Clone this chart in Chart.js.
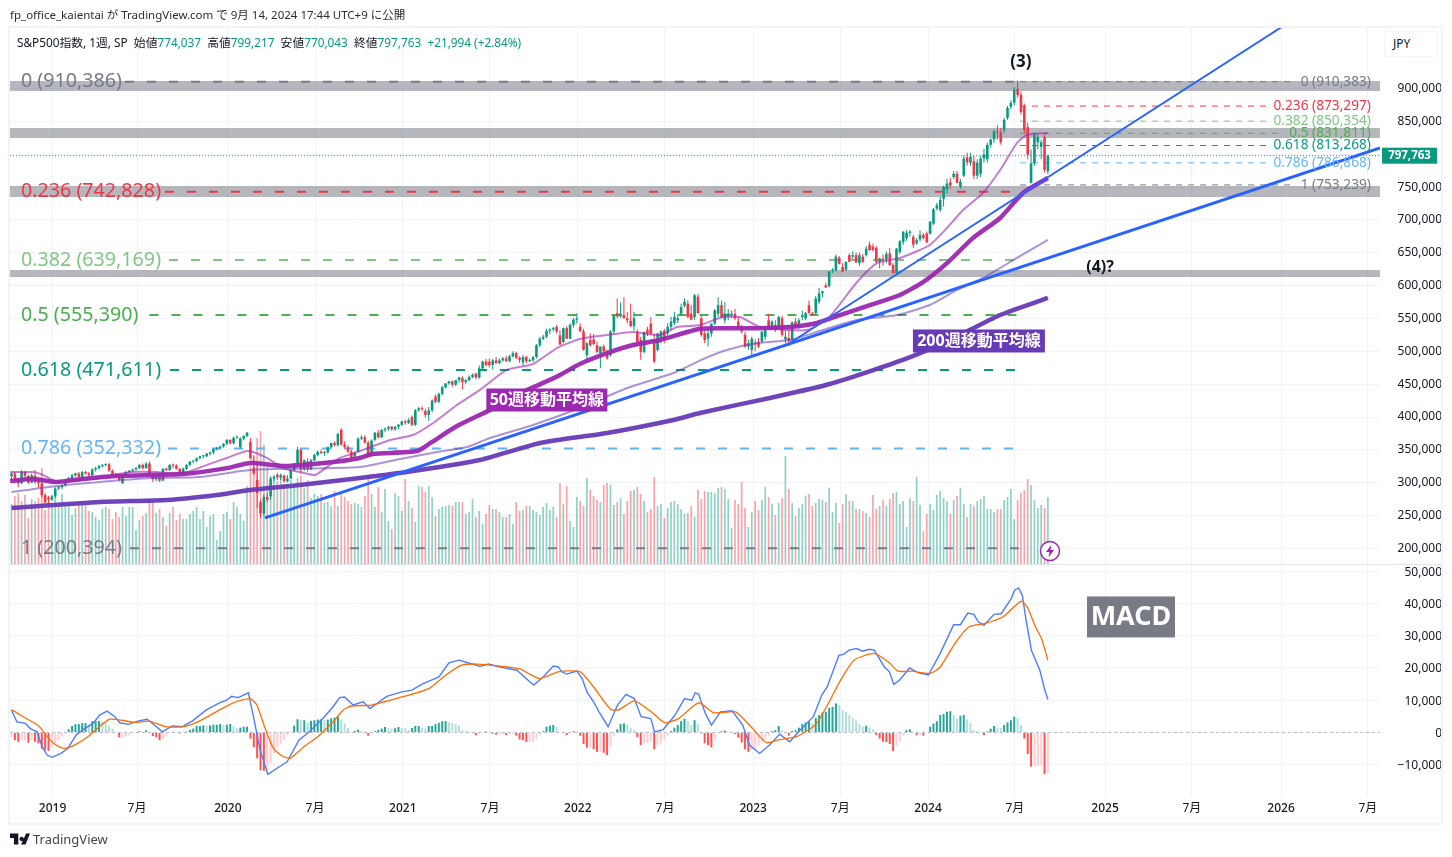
<!DOCTYPE html>
<html lang="ja">
<head>
<meta charset="utf-8">
<title>S&amp;P500指数 1週</title>
<script src="https://cdn.jsdelivr.net/npm/chart.js@4"></script>
<style>
  html, body { margin: 0; background: #fff; }
  body { width: 1452px; height: 857px; position: relative; overflow: hidden;
         font-family: "Noto Sans", "Noto Sans CJK JP", sans-serif; color: #131722; }
  canvas { position: absolute; left: 0; top: 0; }
  .abs { position: absolute; white-space: pre; }
  #frame { left: 8px; top: 26px; width: 1431px; height: 795px; border: 2px solid #f0f3fa; }
  #sep { left: 10px; top: 564px; width: 1431px; height: 1px; background: #e0e3eb; }
  #pub { left: 10px; top: 6px; font-size: 11.5px; color: #2a2e39; }
  #legend { left: 17px; top: 33px; font-size: 11.8px; color: #131722; }
  #legend b { font-weight: 400; color: #089981; }
  #jpy { left: 1384px; top: 31px; width: 52px; height: 24px; line-height: 24px; border: 1px solid #f0f3fa;
         border-radius: 4px; font-size: 12px; padding-left: 0; text-indent: 8px; background: #fff; }
  #tv { left: 33px; top: 830px; font-size: 13px; color: #434651; }
</style>
</head>
<body>
<canvas id="chart" width="1452" height="857"></canvas>
<div class="abs" id="frame"></div>
<div class="abs" id="sep"></div>
<div class="abs" id="pub">fp_office_kaientai が TradingView.com で 9月 14, 2024 17:44 UTC+9 に公開</div>
<div class="abs" id="legend">S&amp;P500指数, 1週, SP  始値<b>774,037</b>  高値<b>799,217</b>  安値<b>770,043</b>  終値<b>797,763</b>  <b>+21,994 (+2.84%)</b></div>
<div class="abs" id="jpy">JPY</div>
<svg class="abs" style="left:10px;top:833px" width="20" height="12" viewBox="0 0 36 20">
  <path fill="#131722" d="M0 0h15v20H7V8H0zM29 0h7l-8 20h-8zM21 6a4 4 0 1 1-.01 0z"/>
</svg>
<div class="abs" id="tv">TradingView</div>
<svg class="abs" style="left:1039px;top:540px" width="22" height="22" viewBox="0 0 22 22">
  <circle cx="11" cy="11" r="9.5" fill="#fff" stroke="#9c27b0" stroke-width="1.5"/>
  <path fill="#9c27b0" d="M12.5 4.5 7 12h3.5l-1 5.5L15 10h-3.5z"/>
</svg>
<script>
// all prices are in thousands of yen, x is the week number from the first candle
const opens = [
  308,312,303,297,314,308,298,309,299,297, 279,275,272,277,289,291,294,301,305,309,
  312,306,314,312,309,318,320,323,325,326, 316,311,309,297,309,314,316,318,320,325,
  320,327,309,303,306,301,319,317,325,324, 319,312,319,325,330,331,335,338,338,342,
  344,349,351,353,357,363,358,366,352,365, 369,360,320,302,268,251,276,277,304,310,
  306,309,300,304,317,327,348,318,330,318, 332,340,345,343,344,352,358,355,378,356,
  352,345,338,345,365,367,359,343,363,374, 367,378,380,383,379,383,386,391,389,398,
  386,408,411,407,401,408,429,421,433,443, 449,452,447,454,457,451,454,459,464,458,
  472,482,482,477,484,480,484,487,483,490, 495,488,481,489,483,484,489,507,517,520,
  529,531,535,522,512,533,517,538,546,535, 528,492,515,516,507,495,505,497,492,528,
  556,551,553,548,544,536,527,515,497,531, 540,515,500,515,529,525,535,541,545,555,
  567,570,555,550,581,548,525,517,525,540, 555,568,545,551,553,555,543,535,523,505,
  500,510,512,513,520,545,533,538,535,548, 516,518,515,543,535,550,548,568,556,556,
  573,586,598,597,620,621,640,626,622,644, 642,644,632,642,644,660,657,655,634,639,
  637,647,629,617,649,664,670,678,672,662, 668,675,677,677,692,715,713,730,744,755,
  763,768,748,765,793,785,787,765,768,791, 790,812,820,832,831,835,853,870,876,897,
  888,871,839,754,784,816,809,824,774.037
];
const highs = [
  313,314,305,317,316,310,312,317,307,300, 282,278,279,291,293,295,303,307,311,313,
  314,316,316,314,320,322,325,326,327,328, 318,313,311,311,316,317,319,322,326,327,
  329,330,311,309,309,320,321,326,327,326, 320,321,326,331,332,336,339,340,343,345,
  350,352,354,358,364,364,368,370,367,370, 375,366,338,327,272,280,283,307,310,313,
  312,310,309,318,328,352,350,333,335,334, 342,347,348,346,353,359,361,374,381,361,
  355,348,345,367,370,370,362,364,375,378, 380,382,384,384,384,387,392,394,396,400,
  410,413,414,410,413,425,432,435,445,449, 453,453,454,459,460,456,461,464,465,476,
  483,486,487,486,489,487,489,491,492,498, 497,490,492,491,487,491,509,520,523,532,
  533,535,538,530,534,536,540,548,556,540, 532,512,525,524,512,505,508,500,530,553,
  578,572,580,558,570,558,531,520,528,535, 550,525,526,530,532,540,550,558,552,570,
  578,576,568,585,585,552,530,532,540,562, 580,575,573,562,560,562,550,538,528,515,
  520,516,518,528,532,555,545,545,552,552, 530,530,543,548,548,560,558,575,558,582,
  594,590,602,620,624,645,643,632,635,647, 650,648,648,646,658,665,662,658,640,645,
  650,655,632,655,667,680,682,682,675,670, 682,678,680,696,716,724,733,750,760,762,
  772,772,760,795,800,800,795,790,795,806, 815,822,835,842,838,853,871,880,900,910,
  893,875,846,805,830,828,820,828,799.217
];
const lows = [
  303,300,291,296,305,296,297,296,290,275, 262,266,270,275,287,288,292,299,303,307,
  304,305,310,306,308,315,318,321,323,314, 308,306,300,296,308,312,314,316,319,318,
  319,310,299,300,299,300,316,316,320,318, 311,310,317,323,327,329,333,335,337,339,
  341,347,349,351,355,356,356,365,350,362, 367,333,310,259,244,248,268,272,300,302,
  302,298,298,303,315,325,312,316,315,317, 331,338,341,339,342,350,353,353,354,350,
  343,335,335,348,363,357,337,338,361,365, 366,375,377,377,377,379,384,386,387,384,
  384,406,407,397,392,405,419,419,431,441, 447,444,445,450,440,448,452,457,455,456,
  470,475,473,470,478,478,482,481,481,489, 486,480,476,480,481,482,487,504,515,518,
  524,528,525,508,510,517,516,534,540,528, 499,480,505,507,495,472,495,485,490,525,
  548,549,548,540,535,529,512,485,495,521, 523,480,498,510,510,522,530,538,541,552,
  565,548,545,545,555,520,510,505,520,538, 550,548,540,545,548,545,535,525,503,500,
  492,498,503,510,515,535,530,527,532,520, 510,506,512,534,532,545,545,555,552,553,
  570,580,594,595,617,619,630,618,620,634, 638,632,628,632,642,650,650,632,624,628,
  632,628,616,614,646,660,666,672,655,660, 665,668,662,675,690,712,710,718,738,745,
  760,754,745,763,780,780,760,760,763,785, 785,808,815,820,812,830,850,866,872,884,
  858,830,790,753,780,805,790,770,770.043
];
const closes = [
  312,303,297,314,308,298,309,299,297,279, 268,272,277,289,291,294,301,305,309,312,
  306,314,312,309,318,320,323,325,326,316, 311,309,302,309,314,316,318,320,325,320,
  327,312,303,306,301,319,317,325,324,319, 312,319,325,330,331,335,338,338,342,344,
  349,351,353,357,363,358,366,366,365,369, 374,335,312,282,251,276,272,304,307,306,
  309,300,304,317,327,348,318,332,318,332, 340,345,343,344,352,358,355,372,356,352,
  345,337,343,365,367,359,340,362,374,367, 378,380,383,379,383,386,391,389,393,386,
  408,411,410,401,408,423,421,433,443,449, 452,447,454,458,451,454,459,462,458,472,
  482,477,477,484,480,484,487,483,490,495, 488,485,489,483,484,489,507,517,520,529,
  531,533,528,508,533,517,538,546,548,528, 500,510,507,509,497,505,498,487,528,553,
  551,555,548,545,536,548,512,497,527,525, 525,482,525,528,515,535,543,550,548,565,
  573,550,546,583,556,523,515,525,540,560, 568,550,555,555,555,548,535,528,505,510,
  517,508,505,528,530,535,543,530,550,523, 520,513,542,535,545,553,556,556,553,578,
  586,589,595,619,622,642,631,619,634,634, 644,633,644,634,654,652,652,634,639,636,
  646,629,617,654,665,680,678,680,660,667, 675,670,664,695,714,720,728,748,753,750,
  768,754,756,791,785,794,765,785,791,797, 812,820,832,831,816,850,868,876,896,888,
  862,834,797,784,827,824,816,774,797.763
];
const volumes = [
  61,69,72,64,70,47,66,64,67,97, 55,63,59,71,58,71,60,62,50,57,
  62,63,60,54,53,48,45,56,58,56, 46,53,48,58,49,58,58,35,45,49,
  52,64,63,52,56,48,39,52,58,45, 51,46,46,51,54,58,46,54,38,49,
  51,25,34,51,53,46,63,58,51,44, 79,102,110,127,134,120,100,89,87,84,
  91,81,81,85,81,87,89,77,85,67, 71,69,71,62,63,59,74,59,71,68,
  64,61,62,61,58,69,88,71,58,78, 53,76,44,36,72,69,54,86,64,57,
  43,79,78,73,79,68,49,56,58,59, 60,59,63,63,63,51,53,66,48,54,
  41,51,60,56,56,53,48,48,51,41, 63,54,55,59,
  59,55,53,50,58,62, 55,58,48,82,61,79,44,38,68,64,
  59,87,75,69,65,63,80,82,80,60, 63,67,51,64,74,75,78,71,64,53,
  56,88,59,61,47,57,63,64,61,56, 51,52,59,48,75,66,74,73,73,72,
  77,78,76,66,37,65,61,83,57,38, 53,64,55,65,78,68,61,50,62,67,
  109,76,62,49,57,61,69,71,59,62, 66,65,63,77,53,62,42,61,71,64,
  64,56,56,54,52,48,70,56,59,65, 59,66,72,73,61,64,38,67,64,88,
  60,34,51,61,55,70,74,67,64,51, 65,69,77,61,48,61,59,64,66,69,
  56,56,53,56,56,65,68,76,46,65, 72,75,86,80,65,57,60,57,68
];
const macdHist = [
  -1.5,-2.4,-2.9,-2.4,-2.4,-3.2,-2.4,-2.9,-3.4,-5, -5.5,-5.7,-4.4,-3.4,-2.4,-1.3,-0.3,1,2,2.6,
  2.6,2.9,2.9,2.4,3.5,3.5,3.5,3.3,3,2, 1.2,0.2,-1.5,-1.5,-1.3,-0.8,-0.3,0,0.4,0.2,
  0.7,-0.1,-1.1,-1.5,-2.4,-2,-1.3,-0.1,0.2,0.1, -0.3,0.2,0.3,0.8,1.2,2,2,2.2,2,2.2,
  2.4,2.4,2.6,2.3,2.4,2.6,2,1.3,1.5,1.8, 1.8,-1.9,-4.6,-8,-11.7,-11.9,-11.7,-9.6,-6.5,-4.6,
  -3.4,-2.4,-0.8,0.2,2.1,4.1,3.8,3.8,3.1,3.6, 3.8,4,4,3.8,4,4.4,4.6,4.9,4,2.8,
  1.4,0.1,0.5,0.9,0.5,-0.1,-1,-0.3,0.4,0.8, 1.2,1.7,1.4,1.2,1.3,1.7,1.4,1.3,0.9,1.4,
  2,2,1.4,1.3,2,2,2.6,3,3.5,3.5, 3.1,3,2.6,2,0.7,0.5,0.2,0.1,-0.9,-0.5,
  0.2,0.3,-0.2,-0.4,-0.7,-0.6,-0.5,-0.8,-0.6,-0.5, -1,-2.2,-2.4,-2.9,-2.9,-2.9,-1.9,-0.8,0.4,1.8,
  2.1,2.3,1.8,0,-0.1,-0.8,-0.3,0.4,-0.1,-1, -3.6,-4.7,-4.7,-5.2,-6,-6,-6.3,-7,-4.4,-1,
  1,2.6,2.8,2.5,1.5,0.7,-1.5,-3.9,-3.4,-3.2, -2.9,-5.2,-3.9,-3.4,-2.4,-1,0.4,1.5,2.3,3.5,
  4.3,3.5,2.3,3.8,2.6,-0.3,-3.4,-3.9,-4.6,-2.4, -0.3,0.4,0.6,0.3,0.2,-0.5,-1.6,-3.1,-5.2,-6,
  -5.5,-5.5,-4.1,-3.1,-1.9,-1,0.4,0.7,2,0.6, 0,-1,0.4,0.7,1.5,2.6,3.1,3.3,3,4.5,
  5.4,6.2,6.4,7.6,7.9,9,8.5,6.9,6.4,5.4, 4.5,3.8,2.6,1.8,2.1,1.5,1,-0.8,-1.9,-2.9,
  -3,-3.6,-5.8,-4.1,-2.7,-0.8,0.7,1,0,-0.8, -0.8,-1,0,1.8,2.8,3.5,5.4,5.7,6.4,6.6,
  5.4,4.3,5.2,5.4,4.1,3,0.7,0.5,0,-0.8, 0.4,1.2,2,1.5,1.4,2.3,3.1,3.8,4.9,4.5,
  2.3,-1.9,-6.7,-10.6,-10.3,-10.3,-10.3,-12.9,-12.5
];

// moving averages and MACD lines: [week, value]
const ma50 = [[-0.4,300.4],[6.4,303.5],[13.5,299],[21,303.5],[31,308],[41,309.6],[51,311],[64,320],[71,328],[81,323.3],[95.6,329.4],[103.5,335.5],[107.4,341.5],[120.5,346],[124.4,358],[132.4,384],[142.2,408.5],[152,436],[162,459],[168.9,478.5],[177,495],[184.7,507.4],[192.7,515],[204.6,532],[211.4,533],[221.5,533],[231.3,534.8],[239.4,540.9],[246.2,553],[255.1,568],[264,583.5],[270.9,603],[278,632],[285.7,670],[293.8,700.7],[300.6,738.7],[308,761.5]];
const ma20 = [[-0.4,314],[6.4,314],[9.4,309.6],[13.5,299],[20.4,302],[26.3,305],[30.2,309.6],[36.1,314],[43.2,314],[46.2,312.6],[52.2,314],[58.1,325],[64,335.5],[70.3,346],[75.9,335.5],[80.7,320],[85.7,314],[90.2,309.6],[93.8,321.8],[97.6,335.5],[103.6,346],[112.5,362.8],[119.3,370.4],[125.3,388.7],[132.4,416],[139.2,439],[147.2,469.4],[155,478.5],[162.1,502.8],[168.9,516.5],[177,522.6],[184.7,527.2],[192.7,522.6],[197.8,534.8],[204.6,537.8],[211.4,550],[216.5,550],[222.4,534.8],[231.3,530.2],[236.4,530.2],[241.1,542.4],[244.1,556],[251.3,603.3],[257.2,632],[264,639.8],[272.9,659.6],[278,685.4],[282.8,712.8],[288.7,738.7],[293.8,773.7],[298.8,814.8],[301.8,827],[308,830]];
const ma100 = [[0,283.7],[13.5,292.9],[26.3,299],[41.2,305],[56,306.5],[70.9,317.2],[103.6,321.8],[115.5,334],[126.5,344.6],[135.4,352.2],[142.2,365.9],[155,385.7],[168.9,411.5],[183,442],[196.7,464.8],[205.5,486],[212.6,499.8],[221.5,510.4],[231.3,515],[241.1,530.2],[251.3,545.5],[263.2,553],[272.9,568.3],[280.9,591],[288.7,609.4],[298.8,639.8],[308,667.2]];
const ma200 = [[0,259.4],[26.3,268.5],[46.2,271.5],[61.1,279.1],[70.9,286.8],[85.7,294.4],[103.6,305],[121.4,317.2],[139.2,332.4],[157.1,358.3],[177,373.5],[196.7,393.3],[204.6,404],[225.4,426.8],[243.2,448],[264.9,484.6],[278.9,515],[293.8,553],[308,579]];
const macdLine = [[0,6.9],[1.6,3.3],[4.1,2.8],[5.6,1.2],[7.6,0.2],[9.1,-4.4],[10.6,-7],[12.1,-7.7],[14.7,-6.5],[16.7,-5],[19.2,-0.8],[21.7,1.2],[24.2,2.8],[26.2,5.4],[28.4,6.6],[30.7,4.9],[32.2,3],[34.7,2.5],[37.8,3.6],[40.3,4.1],[42.8,2],[44.8,0.2],[47.8,2],[50.8,1.8],[53.8,3.6],[57.8,6.9],[61.8,9.2],[63.9,10],[65.4,11.2],[67.4,10.8],[70.4,12.3],[71.9,4.9],[73.9,-5.5],[76.2,-13],[78.9,-11.1],[81.9,-9.1],[85.4,-2.4],[88.5,0.2],[93,4.9],[95.5,7.9],[97.5,10.8],[99,11],[101.5,8.5],[104.5,9.5],[106.5,7.4],[111.5,11.2],[116,12.6],[119,13.1],[122,15],[127,17.2],[130,21.6],[133,22.4],[135.6,21.6],[139.2,20.5],[141.7,21.2],[145.2,20.3],[150.2,19.3],[154,15.7],[155.2,14.7],[158,17.2],[161,20.6],[162.5,20.3],[163.5,18.8],[165,18.1],[168,19],[169.6,16.7],[171,12.6],[173,9.5],[174.6,6.4],[177.3,1.8],[180.1,8.5],[182.6,11.8],[185.1,10.5],[187.1,4.9],[190,4.3],[191.1,0.2],[193.7,0.9],[197.2,5.4],[200,10.5],[202.2,10],[203.2,12.3],[204.2,11.9],[206.2,5.9],[208,2.3],[210.7,6.4],[214.2,6.7],[217.3,2.3],[219.3,-3.9],[222.3,-6.5],[225.3,-3.9],[228.3,-0.5],[231.3,-2.9],[234.3,0.7],[238.3,4.9],[240.8,11.6],[242.4,14.1],[245.9,23.9],[247.4,24.3],[248.9,25.5],[251.2,26],[252.9,25.2],[254.9,25.8],[256.4,25.5],[259.4,20.3],[260.9,18.8],[262.2,14.9],[263.9,16.2],[266.9,20],[269.5,18.5],[272.5,17.8],[276,24.5],[280,33.4],[282,33.4],[284.2,37],[286,36.6],[287.3,34.3],[289,33.2],[292,36.6],[294.1,36.8],[297.1,41.5],[298.1,44.1],[299.3,44.8],[300.4,42.5],[301.6,34.3],[303.1,25.5],[305.6,19.3],[307.1,13.1],[308,10.2]];
const macdSignal = [[0,7.1],[2.6,5.4],[8.1,2],[10.6,-1.3],[13.2,-3.9],[15.7,-4.9],[18.7,-3.9],[22.7,-1.3],[26.7,2.3],[29.2,4.1],[31.7,4],[36.7,3.1],[40.8,3.5],[45.8,1.8],[51.3,1.8],[55.8,3.5],[60.8,6.4],[65.9,9.2],[70.9,10.5],[72.9,8.5],[75.4,1.2],[77.9,-5],[80.4,-7.3],[82.9,-8],[86.9,-4.4],[91,-1.3],[96,3.8],[98.5,6.9],[101,8.2],[107,8.5],[115,10.7],[124,13.6],[129.1,17.8],[133.6,20.8],[138.2,21.2],[147.2,20.3],[151.2,19.6],[154,18.1],[157,16.7],[162.5,18.8],[169,18.8],[173,14.1],[178.1,7.1],[180.6,7.1],[185.1,9.8],[190.1,6.4],[194.2,3],[198.2,4.3],[204.2,9.2],[208.7,6.1],[215.2,6.4],[219.3,2.3],[224.3,-3.1],[228.3,-2.2],[233.3,-1.3],[239.3,2.8],[246.4,16.2],[250.4,22.4],[256.4,24.5],[260.9,21.6],[263.4,19],[267.5,19],[273,18.3],[276,20.3],[280.5,27.8],[284.5,32.7],[289,33.7],[294.6,35.8],[300.1,40.7],[302.1,38.4],[304.1,33.2],[306.1,29.1],[308,22.4]];

// hand drawn trend lines and the grey zones
const trendThick = [[75.3,244.2],[406.7,807.2]];
const trendThin = [[231.3,510.4],[377.5,991.3]];
const zoneLevels = [903.8, 832.3, 743.3, 618.3];
const zoneHeights = [10, 10, 11, 7];

// long fib (left labels) and short fib (right labels)
const longFibValues = [910.386, 742.828, 639.169, 555.39, 471.611, 352.332, 200.394];
const longFibLabels = ["0 (910,386)", "0.236 (742,828)", "0.382 (639,169)", "0.5 (555,390)", "0.618 (471,611)", "0.786 (352,332)", "1 (200,394)"];
const longFibStarts = [33.7, 45.6, 46.8, 41, 47.1, 46.5, 35.2];
const shortFibValues = [910.383, 873.297, 850.354, 831.811, 813.268, 786.868, 753.239];
const shortFibLabels = ["0 (910,383)", "0.236 (873,297)", "0.382 (850,354)", "0.5 (831,811)", "0.618 (813,268)", "0.786 (786,868)", "1 (753,239)"];
const shortFibEnds = [380.8, 372.8, 372.8, 378.5, 372.8, 372.8, 380.8];
const fibColors = ["#787b86", "#f23645", "#81c784", "#4caf50", "#089981", "#64b5f6", "#787b86"];

const priceTicks = [200, 250, 300, 350, 400, 450, 500, 550, 600, 650, 700, 750, 800, 850, 900];
const macdTicks = [-10, 0, 10, 20, 30, 40, 50];
const timeTicks = [12.2, 37.3, 64.3, 90.2, 116.3, 142.2, 168.3, 194.2, 220.4, 246.3, 272.4, 298.2, 325, 350.8, 377.3, 403.1];
const timeLabels = ["2019", "7月", "2020", "7月", "2021", "7月", "2022", "7月", "2023", "7月", "2024", "7月", "2025", "7月", "2026", "7月"];

const GREEN = "#089981";
const RED = "#f23645";
const FONT = '"Noto Sans", "Noto Sans CJK JP", sans-serif';

// my readings of the candles and averages came out about 2,300 yen low against the printed fib levels
const READ_BIAS = 2.3;
const LAST = closes.length - 1;
const fix = (v, i) => (i === LAST ? v : v + READ_BIAS);

const pairs = (list) => list.map(([x, y]) => ({ x, y: y + READ_BIAS }));
const plain = (list) => list.map(([x, y]) => ({ x, y }));
const isUp = (i) => closes[i] >= opens[i];
const flat = (y, x0, x1) => [{ x: x0, y }, { x: x1, y }];

const lineSet = (data, color, width, order, extra) => ({
  type: "line", data, borderColor: color, borderWidth: width, order,
  pointRadius: 0, fill: false, yAxisID: "y", tension: 0, ...extra,
});

const datasets = [];

zoneLevels.forEach((v, i) => {
  datasets.push(lineSet(flat(v, -0.45, 406.7), "rgba(120,123,134,0.55)", zoneHeights[i], 30));
});
longFibValues.forEach((v, i) => {
  datasets.push(lineSet(flat(v, longFibStarts[i], 299.7), fibColors[i], 2, 12, { borderDash: [9, 13] }));
});
shortFibValues.forEach((v, i) => {
  datasets.push(lineSet(flat(v, 299.7, shortFibEnds[i]), fibColors[i], 1, 12, { borderDash: [6, 6] }));
});
datasets.push(lineSet(flat(closes[LAST], -0.45, 406.7), GREEN, 1, 11, { borderDash: [1, 2] }));

datasets.push({
  type: "bar", label: "volume", yAxisID: "yVol", order: 20, barThickness: 1.7, grouped: false, inflateAmount: 0,
  data: volumes.map((v, i) => ({ x: i, y: v })),
  backgroundColor: volumes.map((v, i) => (isUp(i) ? "rgba(8,153,129,0.45)" : "rgba(242,54,69,0.45)")),
});
datasets.push({
  type: "bar", label: "wick", yAxisID: "y", order: 9, barThickness: 1, grouped: false, inflateAmount: 0,
  data: highs.map((h, i) => ({ x: i, y: [fix(lows[i], i), fix(h, i)] })),
  backgroundColor: highs.map((h, i) => (isUp(i) ? GREEN : RED)),
});
datasets.push({
  type: "bar", label: "body", yAxisID: "y", order: 8, barThickness: 2.6, grouped: false, minBarLength: 1, inflateAmount: 0,
  data: opens.map((o, i) => ({ x: i, y: [fix(Math.min(o, closes[i]), i), fix(Math.max(o, closes[i]), i)] })),
  backgroundColor: opens.map((o, i) => (isUp(i) ? GREEN : RED)),
});

datasets.push(lineSet(pairs(ma100), "rgba(103,58,183,0.55)", 2, 6, { tension: 0.2 }));
datasets.push(lineSet(pairs(ma20), "rgba(156,39,176,0.6)", 2, 6, { tension: 0.2 }));
datasets.push(lineSet(pairs(ma200), "rgba(103,58,183,0.95)", 4.5, 5, { tension: 0.2 }));
datasets.push(lineSet(pairs(ma50), "rgba(156,39,176,0.95)", 4.5, 5, { tension: 0.2 }));
datasets.push(lineSet(pairs(trendThick), "#2962ff", 3, 4));
datasets.push(lineSet(pairs(trendThin), "#2962ff", 2, 4));

datasets.push({
  type: "bar", label: "hist", yAxisID: "yMacd", order: 7, barThickness: 2, grouped: false, inflateAmount: 0,
  data: macdHist.map((v, i) => ({ x: i, y: v })),
  backgroundColor: macdHist.map((v, i) => {
    const prev = i ? macdHist[i - 1] : v;
    if (v >= 0) return v >= prev ? "#26a69a" : "#b2dfdb";
    return v < prev ? "#ff5252" : "#ffcdd2";
  }),
});
datasets.push(lineSet(flat(0, -0.45, 406.7), "rgba(120,123,134,0.45)", 1, 8, { yAxisID: "yMacd", borderDash: [3, 3] }));
datasets.push(lineSet(plain(macdLine), "#4d7cff", 1.4, 3, { yAxisID: "yMacd" }));
datasets.push(lineSet(plain(macdSignal), "#ff6d00", 1.3, 2, { yAxisID: "yMacd", tension: 0.2 }));

// texts that sit on the chart, placed through the scales
const floatingTexts = [
  { text: "(3)", x: 300, y: 940.3, axis: "y", font: "bold 17px " + FONT, color: "#131722" },
  { text: "(4)?", x: 323.5, y: 628.3, axis: "y", font: "bold 16px " + FONT, color: "#131722" },
];
const tagTexts = [
  { text: "50週移動平均線", x: 159.1, y: 426, axis: "y", font: "bold 16px " + FONT, bg: "#9c27b0", w: 121, h: 23 },
  { text: "200週移動平均線", x: 287.5, y: 515.8, axis: "y", font: "bold 16px " + FONT, bg: "#673ab7", w: 132, h: 23 },
  { text: "MACD", x: 332.7, y: 35.8, axis: "yMacd", font: "bold 27px " + FONT, bg: "#787b86", w: 88, h: 41 },
];

const overlay = {
  id: "overlay",
  afterDatasetsDraw(chart) {
    const { ctx, scales, chartArea } = chart;
    const px = (v) => scales.x.getPixelForValue(v);
    ctx.save();
    ctx.textBaseline = "middle";

    ctx.textAlign = "left";
    ctx.font = "19.7px " + FONT;
    longFibValues.forEach((v, i) => {
      ctx.fillStyle = fibColors[i];
      ctx.fillText(longFibLabels[i], px(2.8), scales.y.getPixelForValue(v));
    });

    ctx.textAlign = "right";
    ctx.font = "13.7px " + FONT;
    shortFibValues.forEach((v, i) => {
      ctx.fillStyle = fibColors[i];
      ctx.fillText(shortFibLabels[i], px(404), scales.y.getPixelForValue(v));
    });

    ctx.textAlign = "center";
    floatingTexts.forEach((t) => {
      ctx.font = t.font;
      ctx.fillStyle = t.color;
      ctx.fillText(t.text, px(t.x), scales[t.axis].getPixelForValue(t.y));
    });
    tagTexts.forEach((t) => {
      const cx = px(t.x);
      const cy = scales[t.axis].getPixelForValue(t.y);
      ctx.fillStyle = t.bg;
      ctx.fillRect(cx - t.w / 2, cy - t.h / 2, t.w, t.h);
      ctx.font = t.font;
      ctx.fillStyle = "#fff";
      ctx.fillText(t.text, cx, cy);
    });

    // last price tag on the axis
    const lastY = scales.y.getPixelForValue(closes[LAST]);
    ctx.fillStyle = GREEN;
    ctx.fillRect(chartArea.right + 2, lastY - 8, 55, 16);
    ctx.fillStyle = "#fff";
    ctx.font = "bold 11.5px " + FONT;
    ctx.fillText("797,763", chartArea.right + 29.5, lastY);
    ctx.restore();
  },
};

const yAxisBase = {
  position: "right",
  stack: "panes",
  grid: { color: "#f0f3fa", drawTicks: false },
  border: { display: false },
  afterFit(axis) { axis.width = 62; },
};

new Chart(document.getElementById("chart"), {
  type: "bar",
  data: { datasets },
  plugins: [overlay],
  options: {
    responsive: false,
    animation: false,
    events: [],
    layout: { padding: { left: 10, right: 10, top: 27, bottom: 37 } },
    plugins: { legend: { display: false }, tooltip: { enabled: false } },
    scales: {
      x: {
        type: "linear", min: -0.45, max: 406.7, offset: false,
        grid: { color: "#f0f3fa", drawTicks: false, offset: false },
        border: { display: false },
        afterBuildTicks(axis) { axis.ticks = timeTicks.map((value) => ({ value })); },
        afterFit(axis) { axis.height = 23; },
        ticks: {
          autoSkip: false, maxRotation: 0, padding: 4, color: "#131722",
          font: (c) => ({ family: FONT, size: 12, weight: c.index % 2 === 0 ? "500" : "400" }),
          callback: (value) => timeLabels[timeTicks.indexOf(value)],
        },
      },
      y: {
        ...yAxisBase, type: "linear", min: 174.9, max: 993.6, stackWeight: 538, weight: 1,
        afterBuildTicks(axis) { axis.ticks = priceTicks.map((value) => ({ value })); },
        ticks: {
          crossAlign: "far", padding: 9, color: "#131722", font: { family: FONT, size: 12 },
          // the 800,000 label sits under the last price tag
          callback: (v) => (v === 800 ? "" : (v * 1000).toLocaleString("en-US")),
        },
      },
      yMacd: {
        ...yAxisBase, type: "linear", min: -20, max: 51.9, stackWeight: 232, weight: 2,
        afterBuildTicks(axis) { axis.ticks = macdTicks.map((value) => ({ value })); },
        ticks: {
          crossAlign: "far", padding: 9, labelOffset: 1, color: "#131722", font: { family: FONT, size: 12 },
          callback: (v) => (v < 0 ? "\u2212" : "") + Math.abs(v * 1000).toLocaleString("en-US"),
        },
      },
      yVol: { type: "linear", position: "right", display: false, min: -232, max: 538 },
    },
  },
});
</script>
</body>
</html>
